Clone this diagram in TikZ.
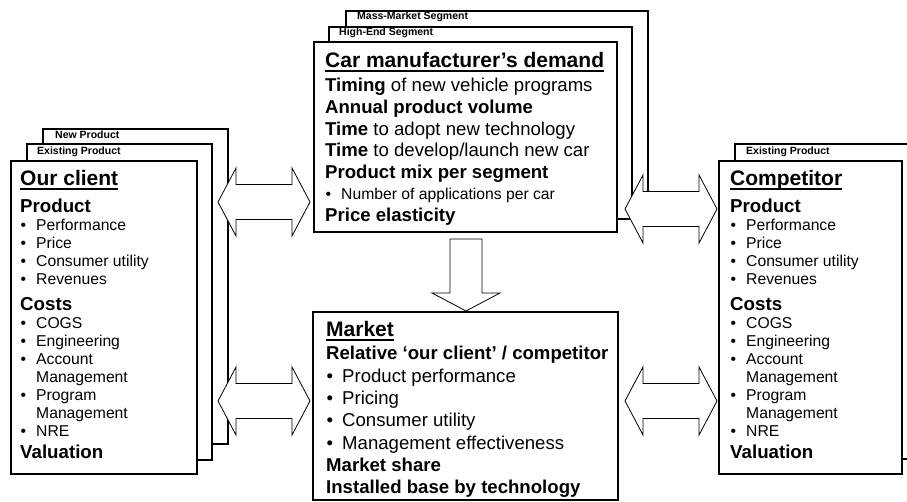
\documentclass[tikz,border=0pt]{standalone}
\usepackage{fontspec}
\setmainfont{Liberation Sans}

% underlined box heading, also clears the fixed word space of text width nodes
\newcommand{\ttlline}[1]{\setbox0\hbox{#1}\rlap{\rule[-4.5pt]{\wd0}{2.3pt}}\box0}
\newcommand{\ttl}[1]{\spaceskip=0pt\xspaceskip=0pt
  {\fontsize{21}{25}\selectfont\bfseries\ttlline{#1}\par}}
% bold sub heading, optional extra space above
\newcommand{\hd}[2][0pt]{\par\vspace{#1}{\fontsize{18.7}{22}\selectfont\bfseries #2\par}}
% bullet line with hanging indent
\newcommand{\bul}[2][16pt]{\par\hangindent=#1\hangafter=1\noindent\makebox[#1][l]{\hspace{0.5pt}\textbullet}#2\par}
% same list for both players
\newcommand{\sidelist}{%
  \hd[4.7pt]{Product}
  {\fontsize{15.7}{18}\selectfont
    \bul{Performance}\bul{Price}\bul{Consumer utility}\bul{Revenues}}
  \hd[4pt]{Costs}
  {\fontsize{15.7}{18}\selectfont
    \bul{COGS}\bul{Engineering}\bul{Account\newline Management}%
    \bul{Program\newline Management}\bul{NRE}}
  \hd{Valuation}}

\begin{document}
\begin{tikzpicture}[x=1pt, y=-1pt, line join=miter,
    card/.style={draw, fill=white, line width=1.4pt},
    tab/.style={anchor=base west, inner sep=0, font=\fontsize{10.5}{12}\selectfont\bfseries},
    txt/.style={anchor=base west, inner sep=0, text width=#1},
    blockarrow/.style={draw, fill=white, line width=0.8pt},
    pics/sidearrow/.style={code={
        \draw[blockarrow] (-46,0) -- (-28,-34) -- (-28,-17.5) -- (28,-17.5) -- (28,-34)
          -- (46,0) -- (28,34) -- (28,17.5) -- (-28,17.5) -- (-28,34) -- cycle;}},
    pics/downarrow/.style={code={
        \draw[blockarrow] (-16,0) -- (16,0) -- (16,54) -- (34,54) -- (0,72)
          -- (-34,54) -- (-16,54) -- cycle;}}]
  \useasboundingbox (0,0) rectangle (907,502);
  \clip (0,0) rectangle (907,502);
  \fill[white] (0,0) rectangle (907,502);

  % our client, stacked per product
  \draw[card] (43,129) rectangle (228,444);
  \node[tab] (newprod) at (55,139) {New Product};
  \draw[card] (27,144) rectangle (212,460);
  \node[tab] (oldprod) at (37,155) {Existing Product};
  \draw[card] (11,161) rectangle (197,474);
  \node[txt=180pt] (client) at (20,186) {\ttl{Our client}\sidelist};

  % demand, stacked per segment
  \draw[card] (346,11) rectangle (648,204);
  \node[tab] (mass) at (357,20) {Mass-Market Segment};
  \draw[card] (329,27) rectangle (632,219);
  \node[tab] (high) at (339,36) {High-End Segment};
  \draw[card] (314,42) rectangle (617,232);
  \node[txt=290pt] (demand) at (325,68) {%
    \ttl{Car manufacturer’s demand}\vspace{2.4pt}
    {\fontsize{18.6}{21.6}\selectfont
      \textbf{Timing} of new vehicle programs\par
      \textbf{Annual product volume}\par
      \textbf{Time} to adopt new technology\par
      \textbf{Time} to develop/launch new car\par
      \textbf{Product mix per segment}\par
      {\fontsize{15.7}{21.6}\selectfont\bul{Number of applications per car}}
      \textbf{Price elasticity}\par}};

  % market
  \draw[card] (313,312) rectangle (618,500);
  \node[txt=290pt] (market) at (326,337) {%
    \ttl{Market}\vspace{0.7pt}
    {\fontsize{18.6}{22.3}\selectfont
      \textbf{Relative ‘our client’ / competitor}\par
      \bul{Product performance}\bul{Pricing}\bul{Consumer utility}%
      \bul{Management effectiveness}
      \textbf{Market share}\par
      \textbf{Installed base by technology}\par}};

  % competitor
  \draw[card] (735,144) rectangle (918,459);
  \node[tab] (rivalprod) at (746,155) {Existing Product};
  \draw[card] (719,161) rectangle (902,474);
  \node[txt=175pt] (rival) at (730,186) {\ttl{Competitor}\sidelist};

  % links
  \pic at (264,202) {sidearrow};
  \pic at (264,401) {sidearrow};
  \pic at (671,209) {sidearrow};
  \pic at (671,401) {sidearrow};
  \pic at (466,239) {downarrow};
\end{tikzpicture}
\end{document}
